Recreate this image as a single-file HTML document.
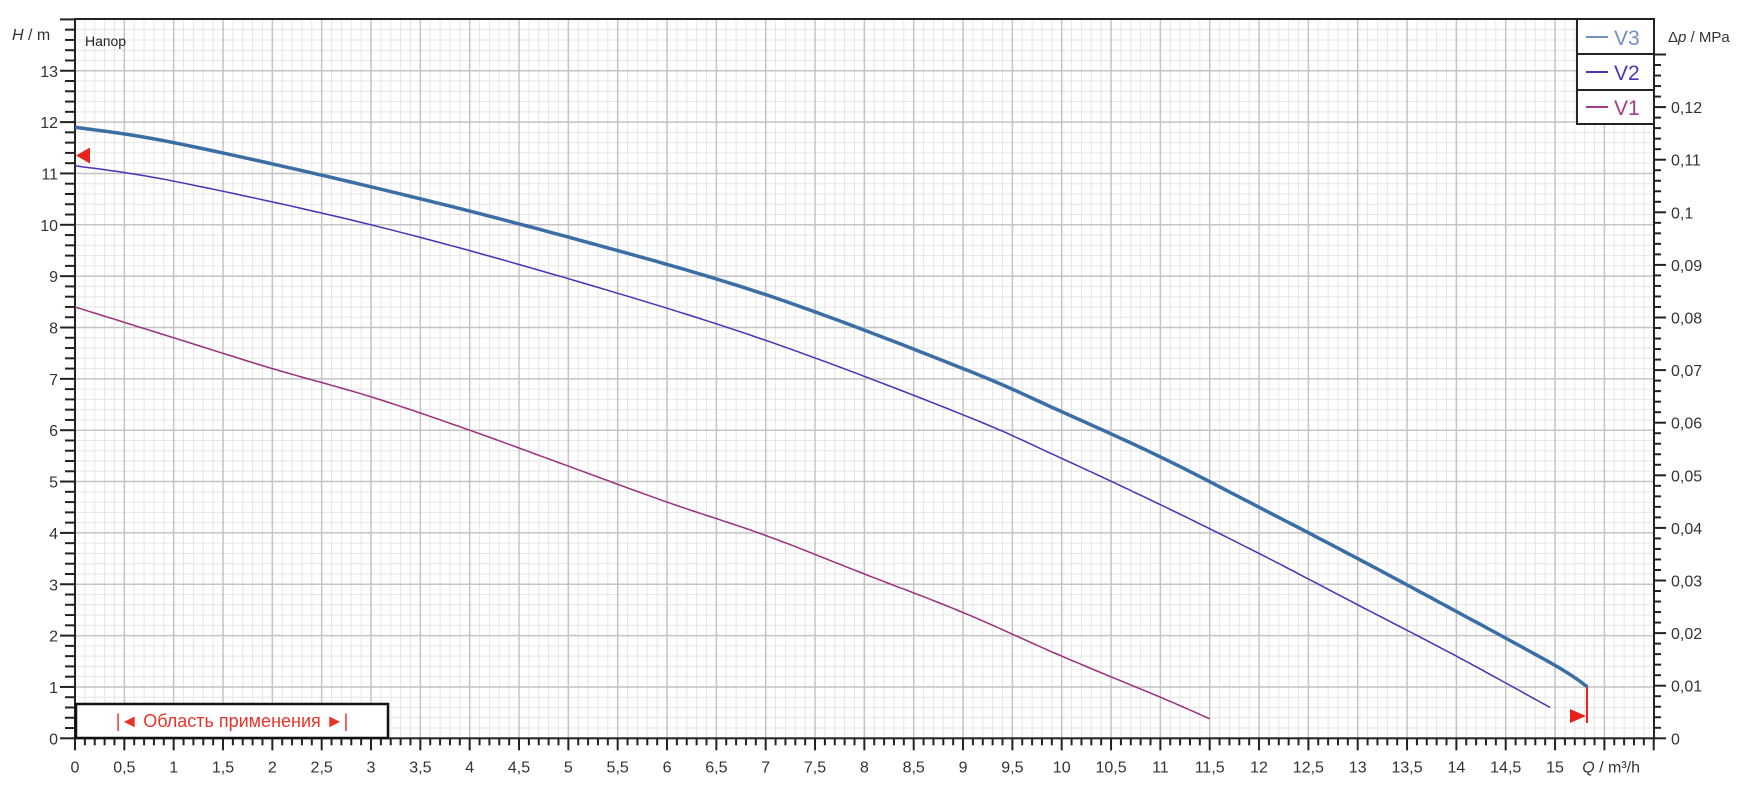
<!DOCTYPE html>
<html><head><meta charset="utf-8"><style>
body{margin:0;background:#fff;width:1748px;height:800px;overflow:hidden}
svg{display:block;font-family:"Liberation Sans","Noto Sans CJK SC",sans-serif}
</style></head><body>
<svg id="s" width="1748" height="800" xmlns="http://www.w3.org/2000/svg"></svg>
<script>
const X0=75,XS=98.67,Y0=738.3,YS=51.35,TOP=19,RIGHT=1654;
const px=q=>X0+q*XS, py=h=>Y0-h*YS;
let o='';
for(let i=0;i<=160;i++){const x=X0+i*XS/10;if(x>RIGHT)break;o+=`<line x1="${x}" y1="${TOP}" x2="${x}" y2="${Y0}" stroke="#e6e6e6" stroke-width="1"/>`;}
for(let i=0;i<=70;i++){const y=Y0-i*YS/5;if(y<TOP)break;o+=`<line x1="${X0}" y1="${y}" x2="${RIGHT}" y2="${y}" stroke="#e6e6e6" stroke-width="1"/>`;}
for(let i=1;i<32;i++){const x=X0+i*XS/2;o+=`<line x1="${x}" y1="${TOP}" x2="${x}" y2="${Y0}" stroke="#c4c4c4" stroke-width="1.5"/>`;}
for(let i=1;i<=13;i++){const y=py(i);o+=`<line x1="${X0}" y1="${y}" x2="${RIGHT}" y2="${y}" stroke="#c4c4c4" stroke-width="1.5"/>`;}
o+=`<rect x="${X0}" y="${TOP}" width="${RIGHT-X0}" height="${Y0-TOP}" fill="none" stroke="#222" stroke-width="2"/>`;
for(let i=0;i<=70;i++){const y=Y0-i*YS/5;if(y<TOP-1)break;const maj=i%5==0;o+=`<line x1="${maj?60:65}" y1="${y}" x2="${X0}" y2="${y}" stroke="#222" stroke-width="2"/>`;
 if(maj&&i/5<=13)o+=`<text x="58" y="${y+6}" font-size="16" fill="#333" text-anchor="end">${i/5}</text>`;}
for(let i=0;i<=160;i++){const x=X0+i*XS/10;const maj=i%5==0;o+=`<line x1="${x}" y1="${Y0}" x2="${x}" y2="${Y0+(maj?12:7)}" stroke="#222" stroke-width="2"/>`;
 if(maj&&i<=150){const v=(i/10).toString().replace('.',',');o+=`<text x="${x}" y="${Y0+34}" font-size="16" fill="#333" text-anchor="middle">${v}</text>`;}}
o+=`<text x="1640" y="${Y0+34}" font-size="16" fill="#333" text-anchor="end"><tspan font-style="italic">Q</tspan> / m³/h</text>`;
const RS=52.6;
for(let i=0;i<=65;i++){const y=Y0-i*RS/5;if(y<TOP-1)break;const maj=i%5==0;o+=`<line x1="${RIGHT}" y1="${y}" x2="${RIGHT+(maj?12:7)}" y2="${y}" stroke="#222" stroke-width="2"/>`;
 if(maj&&i/5<=12){const v=i==0?'0':(i/500).toFixed(3).replace(/0+$/,'').replace('.',',');o+=`<text x="${RIGHT+17}" y="${y+6}" font-size="16" fill="#333">${v}</text>`;}}
o+=`<text x="1668" y="42" font-size="15" fill="#333">Δ<tspan font-style="italic">p</tspan> / MPa</text>`;
o+=`<text x="12" y="40" font-size="16" fill="#333"><tspan font-style="italic">H</tspan> / m</text>`;
o+=`<text x="85" y="46" font-size="14" fill="#222">Напор</text>`;
function curve(p,c,w){let d='';const n=p.length;
 for(let i=0;i<n-1;i++){const p0=p[Math.max(0,i-1)],p1=p[i],p2=p[i+1],p3=p[Math.min(n-1,i+2)];
  for(let t=0;t<=1;t+=0.05){const t2=t*t,t3=t2*t;
   const f=k=>0.5*((2*p1[k])+(-p0[k]+p2[k])*t+(2*p0[k]-5*p1[k]+4*p2[k]-p3[k])*t2+(-p0[k]+3*p1[k]-3*p2[k]+p3[k])*t3);
   d+=(d?'L':'M')+px(f(0)).toFixed(1)+','+py(f(1)).toFixed(1);}}
 d+='L'+px(p[n-1][0])+','+py(p[n-1][1]);
 o+=`<path d="${d}" fill="none" stroke="${c}" stroke-width="${w}" stroke-linejoin="round"/>`;}
curve([[0,11.9],[1,11.6],[3,10.74],[5,9.76],[7,8.64],[9,7.2],[10,6.36],[11,5.48],[12,4.5],[13,3.5],[14,2.47],[15,1.42],[15.33,1.0]],'#3b6ea5',3.5);
curve([[0,11.15],[1,10.85],[3,10.0],[5,8.95],[7,7.75],[9,6.3],[10,5.45],[11,4.55],[12,3.6],[13,2.6],[14,1.6],[14.95,0.6]],'#4a30b8',1.5);
curve([[0,8.4],[1,7.8],[2,7.2],[3,6.65],[4,6.0],[5,5.3],[6,4.6],[7,3.95],[8,3.2],[9,2.45],[10,1.6],[11,0.8],[11.5,0.38]],'#9c2f7c',1.5);
o+=`<polygon points="76,${py(11.35)} 90,${py(11.35)-8} 90,${py(11.35)+8}" fill="#e8221a"/>`;
o+=`<line x1="1587" y1="${py(1.0)}" x2="1587" y2="723" stroke="#e8221a" stroke-width="2"/>`;
o+=`<polygon points="1570,709 1586,716 1570,723" fill="#e8221a"/>`;
o+=`<rect x="1577" y="${TOP}" width="77" height="105" fill="#fff" stroke="#222" stroke-width="2"/>`;
o+=`<line x1="1577" y1="54" x2="1654" y2="54" stroke="#222" stroke-width="2"/><line x1="1577" y1="90" x2="1654" y2="90" stroke="#222" stroke-width="2"/>`;
[['V3','#6f92c2',37],['V2','#4a35b5',72],['V1','#a33a82',107]].forEach(([t,c,y])=>{
 o+=`<line x1="1586" y1="${y}" x2="1608" y2="${y}" stroke="${c}" stroke-width="2"/><text x="1614" y="${y+8}" font-size="21" fill="${c}">${t}</text>`;});
o+=`<rect x="76" y="704" width="312" height="34" fill="#fff" stroke="#111" stroke-width="2.5"/>`;
o+=`<text x="232" y="727" font-size="18" fill="#e8342a" text-anchor="middle">|◄ Область применения ►|</text>`;
document.getElementById('s').innerHTML=o;
</script>
</body></html>
